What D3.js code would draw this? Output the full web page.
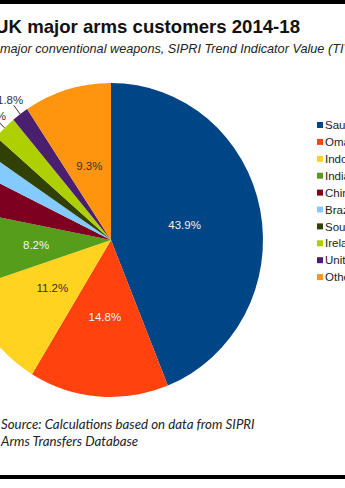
<!DOCTYPE html>
<html>
<head>
<meta charset="utf-8">
<script src="https://cdn.jsdelivr.net/npm/d3@7"></script>
<style>
  html, body { margin: 0; padding: 0; background: #fff; overflow: hidden; }
  svg { display: block; }
</style>
</head>
<body>
<svg id="chart" width="345" height="488"></svg>
<script>
// UK major arms customers 2014-18, share of TIV (%)
const customers = ["Saudi Arabia", "Oman", "Indonesia", "India", "China", "Brazil",
                   "South Korea", "Ireland", "United States", "Others"];
const shares = [43.9, 14.8, 11.2, 8.2, 4.2, 2.2, 1.9, 2.5, 1.8, 9.3];
const colours = ["#004586", "#ff420e", "#ffd320", "#579d1c", "#7e0021", "#83caff",
                 "#314004", "#aecf00", "#4b1f6f", "#ff950e"];
const darkText = [false, false, true, false, false, false, false, false, false, true];

const svg = d3.select("#chart");
const W = 345, H = 488;

// frame bars
svg.append("rect").attr("x", 0).attr("y", 0).attr("width", W).attr("height", 4).attr("fill", "#000");
svg.append("rect").attr("x", 0).attr("y", 475).attr("width", W).attr("height", 4).attr("fill", "#000");

// title
svg.append("text")
  .attr("x", 300).attr("y", 33)
  .attr("text-anchor", "end")
  .style("font-family", "'Liberation Sans', Arial, sans-serif")
  .style("font-weight", "bold")
  .style("font-size", "18.6px")
  .attr("fill", "#111")
  .text("UK major arms customers 2014-18");

svg.append("text")
  .attr("x", 0).attr("y", 53)
  .style("font-family", "'Liberation Sans', Arial, sans-serif")
  .style("font-style", "italic")
  .style("font-size", "12.7px")
  .attr("fill", "#222")
  .text("major conventional weapons, SIPRI Trend Indicator Value (TIV)");

// pie
const cx = 111, cy = 240, R = 152, sy = 1.033;
const pie = d3.pie().sort(null).value(d => d)(shares);
const arc = d3.arc().innerRadius(0).outerRadius(R);

const g = svg.append("g").attr("transform", `translate(${cx},${cy}) scale(1,${sy})`);
g.selectAll("path").data(pie).join("path")
  .attr("d", arc)
  .attr("fill", (d, i) => colours[i]);

const inArc = d3.arc().innerRadius(75).outerRadius(75);
const edgeArc = d3.arc().innerRadius(R).outerRadius(R);
const lineArc = d3.arc().innerRadius(R * 1.07).outerRadius(R * 1.07);
const outArc = d3.arc().innerRadius(R * 1.11).outerRadius(R * 1.11);
const fmt = v => v.toFixed(1) + "%";
const labelFont = "'Liberation Sans', Arial, sans-serif";

pie.forEach((d, i) => {
  const inside = d.data >= 5;
  if (inside) {
    const [x, y] = inArc.centroid(d);
    svg.append("text")
      .attr("x", cx + x).attr("y", cy + y * sy)
      .attr("text-anchor", "middle").attr("dy", "0.35em")
      .style("font-family", labelFont).style("font-size", "11.5px")
      .attr("fill", darkText[i] ? "#333" : "#f2f2f2")
      .text(fmt(d.data));
  } else {
    const [ex, ey] = edgeArc.centroid(d);
    const [lx, ly] = lineArc.centroid(d);
    svg.append("line")
      .attr("x1", cx + ex).attr("y1", cy + ey * sy)
      .attr("x2", cx + lx).attr("y2", cy + ly * sy)
      .attr("stroke", "#333").attr("stroke-width", 1);
    const [ox, oy] = outArc.centroid(d);
    svg.append("text")
      .attr("x", cx + ox).attr("y", cy + oy * sy)
      .attr("text-anchor", "middle").attr("dy", "0.35em")
      .style("font-family", labelFont).style("font-size", "11.5px")
      .attr("fill", "#333")
      .text(fmt(d.data));
  }
});

// legend
const leg = svg.append("g");
customers.forEach((name, i) => {
  const y = 125 + i * 16.9;
  leg.append("rect").attr("x", 317).attr("y", y - 3).attr("width", 6).attr("height", 6)
    .attr("fill", colours[i]);
  leg.append("text").attr("x", 325).attr("y", y).attr("dy", "0.36em")
    .style("font-family", labelFont).style("font-size", "11.5px")
    .attr("fill", "#222").text(name);
});

// source note
const src = svg.append("text")
  .style("font-family", "Lato, 'Open Sans', sans-serif")
  .style("font-style", "italic")
  .style("font-size", "13.3px")
  .attr("fill", "#222");
src.append("tspan").attr("x", 1).attr("y", 429).text("Source: Calculations based on data from SIPRI");
src.append("tspan").attr("x", 1).attr("y", 446).text("Arms Transfers Database");
</script>
</body>
</html>
